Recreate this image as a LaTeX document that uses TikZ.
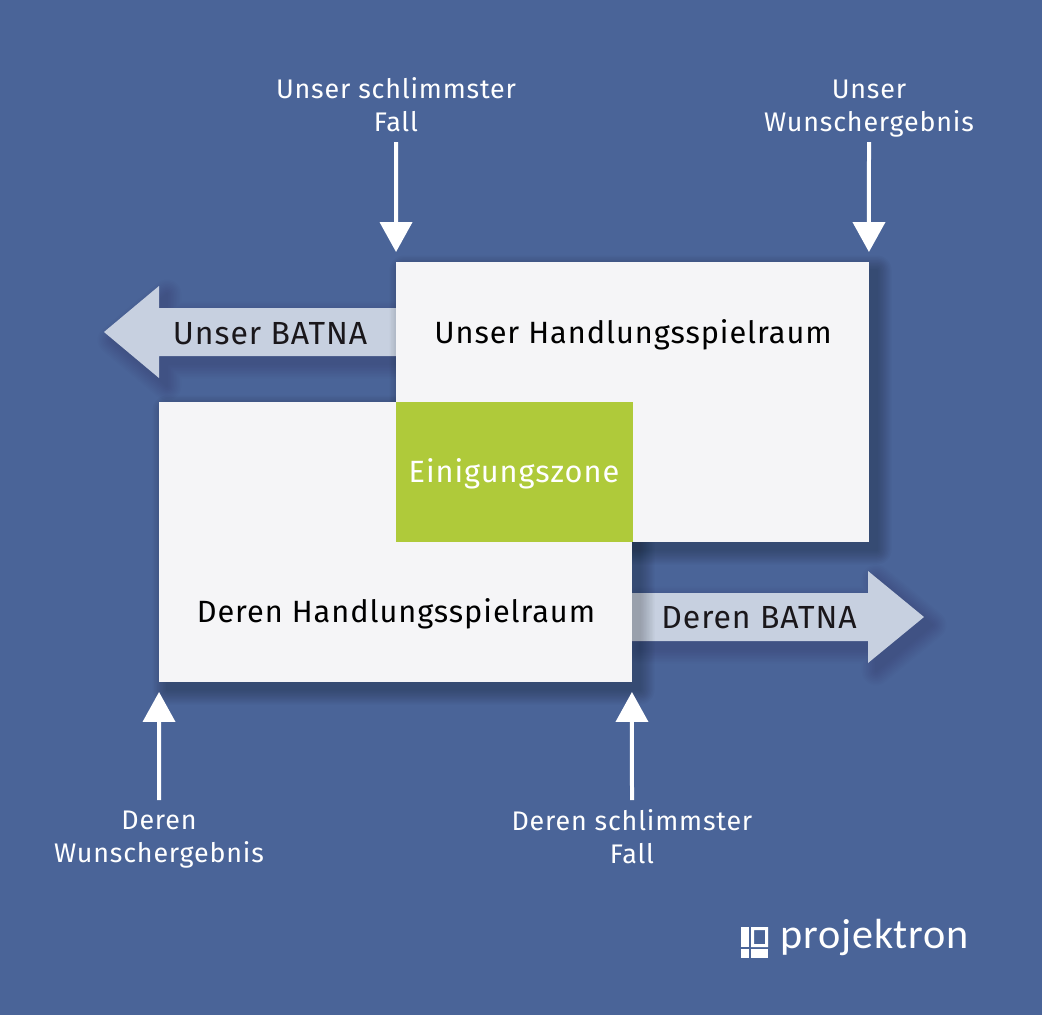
\documentclass[tikz,border=0pt]{standalone}
\usepackage{fontspec}
\setmainfont{Fira Sans}
\usetikzlibrary{arrows.meta,positioning}
\definecolor{bgblue}{RGB}{74,100,152}
\definecolor{boxwhite}{RGB}{245,245,247}
\definecolor{zonegreen}{RGB}{175,202,58}
\definecolor{batnablue}{RGB}{199,208,224}
\definecolor{inkdark}{RGB}{26,23,27}
\newfontfamily\labelfont[LetterSpace=3]{Fira Sans}
\newfontfamily\logofont[LetterSpace=2]{Carlito}
\newcommand{\softshadow}[2]{%
  \foreach \w in {2,5,...,29} {
    \begin{scope}[transparency group, opacity=#1]
      \path[draw=black, fill=black, line join=round, line width=\w*0.02cm, shift={(8,8)}] #2;
    \end{scope}
  }}
\tikzset{
  x=0.02cm, y=-0.02cm,
  areabox/.style={rectangle, fill=boxwhite, inner sep=0pt, outer sep=0pt, minimum width=9.46cm, minimum height=5.6cm},
  zonebox/.style={rectangle, fill=zonegreen, inner sep=0pt, outer sep=0pt, minimum width=4.74cm, minimum height=2.8cm},
  bigtext/.style={inner sep=0pt, text=black, font=\labelfont\fontsize{17.5}{20}\selectfont},
  batnatext/.style={inner sep=0pt, text=inkdark, font=\labelfont\fontsize{18.2}{20}\selectfont},
  marktext/.style={inner sep=0pt, align=center, text=white, font=\labelfont\fontsize{15.3}{18.8}\selectfont},
  markarrow/.style={-{Triangle[length=0.6cm, width=0.64cm]}, white, line width=0.08cm, shorten >=0.2cm},
  batnaarrow/.style={fill=batnablue},
}
\begin{document}
\begin{tikzpicture}
  \path[use as bounding box, fill=bgblue] (0,0) rectangle (1042,1015);

  % BATNA arrows
  \softshadow{0.012}{(104,332) -- (159,286) -- (159,308) -- (396,308) -- (396,356) -- (159,356) -- (159,378) -- cycle}
  \path[batnaarrow] (104,332) -- (159,286) -- (159,308) -- (396,308) -- (396,356) -- (159,356) -- (159,378) -- cycle;
  \softshadow{0.012}{(924,617) -- (868,571) -- (868,593) -- (632,593) -- (632,641) -- (868,641) -- (868,663) -- cycle}
  \path[batnaarrow] (924,617) -- (868,571) -- (868,593) -- (632,593) -- (632,641) -- (868,641) -- (868,663) -- cycle;

  % Areas
  \softshadow{0.024}{(159,402) rectangle (632,682)}
  \softshadow{0.024}{(396,262) rectangle (869,542)}
  \node[areabox] (usbox) at (632.5,402) {};
  \node[areabox] (thembox) at (395.5,542) {};
  \node[zonebox] (zone) at (514.5,472) {};

  \node[bigtext] (ustext) at (633,334.5) {Unser Handlungsspielraum};
  \node[bigtext] (themtext) at (396,614) {Deren Handlungsspielraum};
  \node[bigtext, text=white] (zonetext) at (514,474) {Einigungszone};
  \node[batnatext] (usbatna) at (270,334) {Unser BATNA};
  \node[batnatext] (thembatna) at (759,618) {Deren BATNA};

  % Top marks
  \node[marktext, text depth=5.5pt, anchor=south] (usworst) at (396,142) {Unser schlimmster\\Fall};
  \node[marktext, text depth=5.5pt, anchor=south] (usbest) at (869,142) {Unser\\Wunschergebnis};
  \draw[markarrow] (usworst.south) -- (usbox.north west);
  \draw[markarrow] (usbest.south) -- (usbox.north east);

  % Bottom marks
  \node[marktext, inner ysep=0.18cm, anchor=north] (thembest) at (159,800) {Deren\vphantom{h}\\Wunschergebnis};
  \node[marktext, inner ysep=0.18cm, anchor=north] (themworst) at (632,800) {Deren schlimmster\\Fall};
  \draw[markarrow] (thembest.north) -- (thembox.south west);
  \draw[markarrow] (themworst.north) -- (thembox.south east);

  % Logo
  \fill[white] (741,927) rectangle (749,947);
  \fill[white, even odd rule] (751,927) rectangle (768,947) (754,930) rectangle (765,944);
  \fill[white] (741,949) rectangle (749,958);
  \fill[white] (751,949) rectangle (768,958);
  \node[inner sep=0pt, text=white, anchor=base west, font=\logofont\fontsize{24}{28}\selectfont] (logo) at (780,948) {projektron};
\end{tikzpicture}
\end{document}
